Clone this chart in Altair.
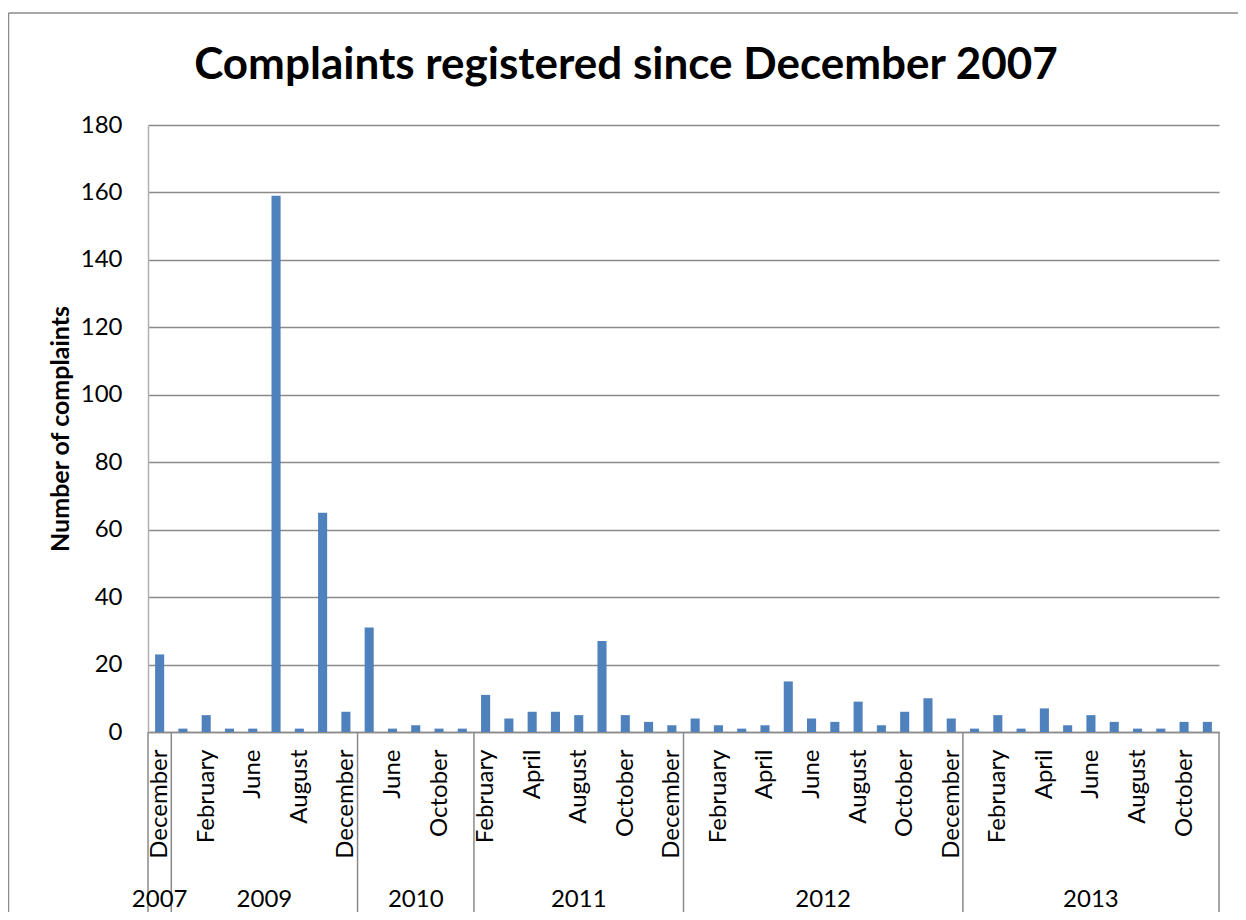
import altair as alt
import pandas as pd

# ---- data ----
years = (["2007"] + ["2009"] * 8 + ["2010"] * 5 + ["2011"] * 9
         + ["2012"] * 12 + ["2013"] * 11)
months = [
    "December",
    "January", "February", "April", "June", "July", "August", "October", "December",
    "May", "June", "August", "October", "November",
    "February", "March", "April", "June", "August", "September", "October", "November", "December",
    "January", "February", "March", "April", "May", "June", "July", "August",
    "September", "October", "November", "December",
    "January", "February", "March", "April", "May", "June", "July", "August",
    "September", "October", "November",
]
complaints = [
    23,
    1, 5, 1, 1, 159, 1, 65, 6,
    31, 1, 2, 1, 1,
    11, 4, 6, 6, 5, 27, 5, 3, 2,
    4, 2, 1, 2, 15, 4, 3, 9, 2, 6, 10, 4,
    1, 5, 1, 7, 2, 5, 3, 1, 1, 3, 3,
]
y_ticks = [0, 20, 40, 60, 80, 100, 120, 140, 160, 180]
title_text = "Complaints registered since December 2007"
y_title = "Number of complaints"

# ---- styling ----
W, H = 1071, 607
FONT = "Lato"
GRID = "#8a8a8a"
BAR = "#4F81BD"
BAR_FRAC = 0.39

n = len(months)
df = pd.DataFrame({"idx": range(n), "year": years, "month": months, "count": complaints})
df["x0"] = df["idx"] + (1 - BAR_FRAC) / 2
df["x1"] = df["idx"] + (1 + BAR_FRAC) / 2

grp = df.groupby("year", sort=False)["idx"].agg(["min", "max"]).reset_index()
grp["start"] = grp["min"]
grp["end"] = grp["max"] + 1
grp["mid"] = (grp["start"] + grp["end"]) / 2
bounds = pd.DataFrame({"b": sorted(set(grp["start"]) | set(grp["end"]))})

xscale = alt.Scale(domain=[0, n], nice=False, zero=False)
label_js = "[" + ",".join("'%s'" % m for m in months) + "]"

x_axis = alt.Axis(
    values=[i + 0.5 for i in range(0, n, 2)],
    labelExpr=f"{label_js}[floor(datum.value)]",
    labelAngle=270, labelAlign="right", labelBaseline="middle",
    labelPadding=17, ticks=False, tickSize=0, grid=False,
    domainColor=GRID, domainWidth=1.5,
    labelFont=FONT, labelFontSize=24, labelColor="black",
    labelFlush=False, labelOverlap=False, title=None,
)
y_axis = alt.Axis(
    values=y_ticks, ticks=False, tickSize=0, labelPadding=26,
    grid=True, gridColor=GRID, gridWidth=1.5,
    domainColor="#b0b0b0", domainWidth=1.5,
    labelFont=FONT, labelFontSize=24, labelColor="black",
    title=y_title, titleFont=FONT, titleFontSize=25, titleFontWeight="bold",
    titleColor="black", titleAngle=270, titleX=-88, titleY=H / 2,
    titleAlign="center", titleBaseline="middle",
)

bars = alt.Chart(df).mark_bar(color=BAR).encode(
    x=alt.X("x0:Q", scale=xscale, axis=x_axis),
    x2="x1:Q",
    y=alt.Y("count:Q", scale=alt.Scale(domain=[0, 180], nice=False), axis=y_axis),
    y2=alt.datum(0),
)

seps = alt.Chart(bounds).mark_rule(color=GRID, strokeWidth=1.5).encode(
    x=alt.X("b:Q", scale=xscale, axis=x_axis),
    y=alt.value(H),
    y2=alt.value(H + 182),
)

year_text = alt.Chart(grp).mark_text(
    font=FONT, fontSize=24, color="black", align="center", baseline="middle"
).encode(
    x=alt.X("mid:Q", scale=xscale, axis=x_axis),
    y=alt.value(775),
    text="year:N",
)

one = pd.DataFrame({"t": [title_text]})
title = alt.Chart(one).mark_text(
    font=FONT, fontSize=44, fontWeight="bold", color="black",
    align="center", baseline="alphabetic"
).encode(x=alt.value(478), y=alt.value(-46), text="t:N")

border_v = alt.Chart(one).mark_rule(color=GRID, strokeWidth=1.5).encode(
    x=alt.value(-139.5), y=alt.value(-112), y2=alt.value(H + 182)
)
border_h = alt.Chart(one).mark_rule(color=GRID, strokeWidth=1.5).encode(
    x=alt.value(-139.5), x2=alt.value(W + 19), y=alt.value(-112)
)

chart = alt.layer(border_v, border_h, bars, seps, year_text, title).properties(
    width=W, height=H,
    padding={"left": 140, "top": 117, "right": 19, "bottom": 180},
    autosize="none",
    background="white",
).configure_view(stroke="transparent")

chart.save("out.html", embed_options={"renderer": "svg", "actions": False})
